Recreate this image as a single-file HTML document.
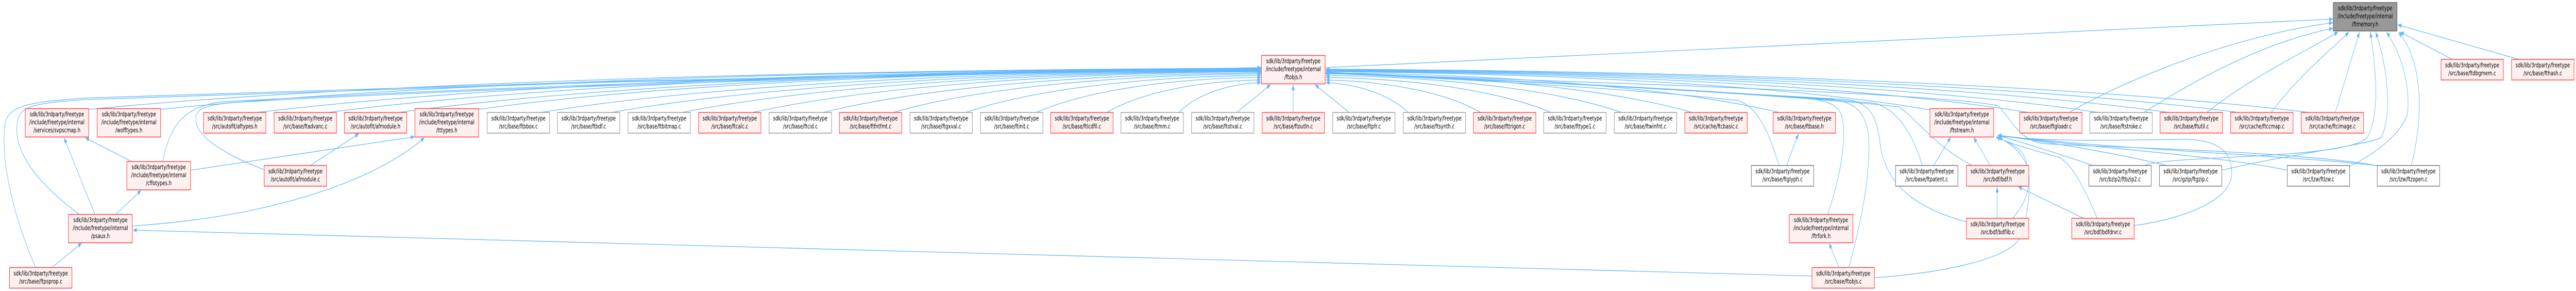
<!DOCTYPE html>
<html><head><meta charset="utf-8"><style>
html,body{margin:0;padding:0;background:#fff;width:100%;height:100%;overflow:hidden}
svg{display:block;position:fixed;left:0;top:0;width:100vw;height:100vh}
.r{fill:#fff0f0;stroke:#ff4040;stroke-width:1.5}
.g{fill:#fff;stroke:#999;stroke-width:1.5}
.g2{fill:#fff;stroke:#777;stroke-width:1.5}
.t{fill:#999;stroke:#666;stroke-width:1.5}
.e{fill:none;stroke:#63b8ff;stroke-width:1.3}
text{font-family:"DejaVu Sans","Liberation Sans",sans-serif;font-size:12.8px;text-anchor:middle;fill:#000}
</style></head><body>
<svg viewBox="0 0 7556 564" preserveAspectRatio="none" xmlns="http://www.w3.org/2000/svg">
<defs><marker id="a" markerUnits="userSpaceOnUse" markerWidth="12" markerHeight="10" refX="11" refY="5" orient="auto"><path d="M0,0.5 L11,5 L0,9.5z" fill="#63b8ff"/></marker></defs>
<rect x="0" y="0" width="7556" height="564" fill="#fff"/>
<g class="e" marker-end="url(#a)">
<path d="M3887,131 L6843,37"/>
<path d="M6069,218 C6250,150 6550,70 6843,44"/>
<path d="M6289,218 C6450,150 6650,80 6843,55"/>
<path d="M6473,218 C6600,150 6790,90 6858,62"/>
<path d="M6662,218 C6750,140 6850,90 6890,62"/>
<path d="M6850,218 L6921,62"/>
<path d="M6289,321 C6350,300 6900,310 6945,265 C6985,215 6965,120 6953,62"/>
<path d="M6517,330 C6700,300 6960,280 6985,266 C7020,220 7000,120 6968,62"/>
<path d="M6893,322 C6990,290 7050,250 7062,220 C7070,160 7040,100 7000,62"/>
<path d="M7073,321 C7100,250 7120,130 7035,62"/>
<path d="M7193,115 L7040,62"/>
<path d="M7388,115 L7033,48"/>
<path d="M260,212 C948,168 2152,136 3699,132"/>
<path d="M471,212 C1117,168 2247,136 3699,133"/>
<path d="M754,218 C1343,171 2374,137 3699,133"/>
<path d="M962,218 C1510,171 2468,137 3699,134"/>
<path d="M1169,218 C1675,172 2561,138 3699,134"/>
<path d="M1404,212 C1863,169 2667,138 3699,135"/>
<path d="M1586,218 C2009,172 2749,139 3699,136"/>
<path d="M1793,218 C2174,173 2842,140 3699,137"/>
<path d="M2000,218 C2340,173 2935,141 3699,138"/>
<path d="M2207,218 C2506,174 3028,142 3699,139"/>
<path d="M2415,218 C2672,175 3122,144 3699,141"/>
<path d="M2620,218 C2836,176 3214,146 3699,143"/>
<path d="M2832,218 C3006,178 3309,149 3699,146"/>
<path d="M3039,218 C3171,180 3403,152 3699,150"/>
<path d="M3246,218 C3337,183 3496,157 3699,155"/>
<path d="M3458,218 C3506,186 3591,163 3699,160"/>
<path d="M3628,218 L3727,164"/>
<path d="M3793,218 L3793,164"/>
<path d="M3957,218 L3857,164"/>
<path d="M4131,218 C4082,187 3997,164 3889,160"/>
<path d="M4343,218 C4252,183 4092,158 3889,155"/>
<path d="M4550,218 C4417,181 4185,153 3889,150"/>
<path d="M4757,218 C4583,178 4279,150 3889,146"/>
<path d="M4964,218 C4749,177 4372,147 3889,143"/>
<path d="M5219,218 C4953,176 4486,145 3889,141"/>
<path d="M5661,213 C5306,172 4685,143 3889,139"/>
<path d="M5950,218 C5537,174 4815,142 3889,138"/>
<path d="M6155,218 C5701,173 4908,141 3889,137"/>
<path d="M6363,218 C5868,173 5001,140 3889,136"/>
<path d="M6567,218 C6031,172 5093,139 3889,135"/>
<path d="M6774,218 C6197,172 5186,138 3889,134"/>
<path d="M477,313 C500,240 540,210 640,198 C1500,165 2800,140 3699,132"/>
<path d="M775,329 C680,305 580,270 575,235 C570,210 600,203 700,198 C1500,168 2800,142 3699,133"/>
<path d="M232,415 C120,360 40,300 50,240 C55,205 100,200 250,193 C1300,165 2800,140 3699,131"/>
<path d="M104,518 C40,420 0,310 15,240 C25,205 80,198 250,190 C1300,163 2800,140 3699,131"/>
<path d="M386,313 L250,267"/>
<path d="M558,330 L1216,265"/>
<path d="M278,415 L188,267"/>
<path d="M340,415 L414,369"/>
<path d="M388,438 C800,420 1100,350 1245,267"/>
<path d="M153,518 L240,471"/>
<path d="M912,320 L1053,259"/>
<path d="M5315,535 L390,446"/>
<path d="M5241,320 L5275,259"/>
<path d="M5218,320 C5190,260 5160,210 5100,195 C4800,172 4250,152 3889,142"/>
<path d="M5672,320 L5722,266"/>
<path d="M5638,320 C5610,260 5570,215 5500,200 C5100,178 4300,152 3889,140"/>
<path d="M5837,320 L5789,266"/>
<path d="M5783,320 C5680,285 5620,230 5570,207 C5200,180 4300,152 3889,140"/>
<path d="M5858,423 L5858,362"/>
<path d="M5904,423 C5960,380 5990,310 5862,266"/>
<path d="M5768,430 C5600,400 5530,350 5515,280 C5505,220 5480,200 5420,193 C5000,175 4300,152 3889,141"/>
<path d="M6111,423 L5920,362"/>
<path d="M6152,423 C6110,360 6080,320 6040,305 C5960,290 5900,280 5855,265"/>
<path d="M6260,437 C6400,425 6540,390 6546,340 C6550,290 6500,270 6400,270 C6200,272 6000,275 5860,263"/>
<path d="M6140,321 C6050,300 5950,280 5860,262"/>
<path d="M6356,321 C6200,295 6000,275 5860,262"/>
<path d="M6709,330 C6500,300 6100,285 5860,262"/>
<path d="M6973,321 C6700,300 6200,290 5860,262"/>
<path d="M6973,321 C6700,290 6100,285 5990,278 C5920,270 5900,230 5860,205 C5700,180 4500,155 3889,142"/>
<path d="M5394,518 L5365,471"/>
<path d="M5423,518 C5460,430 5490,330 5480,260 C5470,215 5440,200 5380,193 C5000,175 4300,152 3889,141"/>
<path d="M5497,538 C5700,530 5900,500 5925,460 C5960,400 5960,320 5930,295 C5900,275 5870,270 5855,266"/>
<path d="M5361,415 C5400,340 5420,260 5400,220 C5385,200 5350,195 5300,190 C4900,170 4300,152 3889,141"/>
</g>

<rect class="t" x="6844" y="5" width="187" height="55"/>
<text x="6937.5" y="20">sdk/lib/3rdparty/freetype<tspan x="6937.5" dy="15.5">/include/freetype/internal</tspan><tspan x="6937.5" dy="15.5">/ftmemory.h</tspan></text>

<rect class="r" x="3700" y="107.5" width="187" height="55"/>
<text x="3793.5" y="122.5">sdk/lib/3rdparty/freetype<tspan x="3793.5" dy="15.5">/include/freetype/internal</tspan><tspan x="3793.5" dy="15.5">/ftobjs.h</tspan></text>

<rect class="r" x="7160" y="115" width="183" height="40"/>
<text x="7251.5" y="130.3">sdk/lib/3rdparty/freetype<tspan x="7251.5" dy="15.5">/src/base/ftdbgmem.c</tspan></text>
<rect class="r" x="7367" y="115" width="183" height="40"/>
<text x="7458.5" y="130.3">sdk/lib/3rdparty/freetype<tspan x="7458.5" dy="15.5">/src/base/fthash.c</tspan></text>

<rect class="r" x="74" y="210.5" width="186" height="55"/>
<text x="167" y="225.5">sdk/lib/3rdparty/freetype<tspan x="167" dy="15.5">/include/freetype/internal</tspan><tspan x="167" dy="15.5">/services/svpscmap.h</tspan></text>
<rect class="r" x="285" y="210.5" width="186" height="55"/>
<text x="378" y="225.5">sdk/lib/3rdparty/freetype<tspan x="378" dy="15.5">/include/freetype/internal</tspan><tspan x="378" dy="15.5">/wofftypes.h</tspan></text>
<rect class="r" x="597" y="218" width="183" height="40"/>
<text x="688.5" y="233.3">sdk/lib/3rdparty/freetype<tspan x="688.5" dy="15.5">/src/autofit/aftypes.h</tspan></text>
<rect class="r" x="804" y="218" width="183" height="40"/>
<text x="895.5" y="233.3">sdk/lib/3rdparty/freetype<tspan x="895.5" dy="15.5">/src/base/ftadvanc.c</tspan></text>
<rect class="r" x="1010" y="218" width="183" height="40"/>
<text x="1101.5" y="233.3">sdk/lib/3rdparty/freetype<tspan x="1101.5" dy="15.5">/src/autofit/afmodule.h</tspan></text>
<rect class="r" x="1217" y="210.5" width="187" height="55"/>
<text x="1310.5" y="225.5">sdk/lib/3rdparty/freetype<tspan x="1310.5" dy="15.5">/include/freetype/internal</tspan><tspan x="1310.5" dy="15.5">/tttypes.h</tspan></text>
<rect class="g" x="1429" y="218" width="183" height="40"/>
<text x="1520.5" y="233.3">sdk/lib/3rdparty/freetype<tspan x="1520.5" dy="15.5">/src/base/ftbbox.c</tspan></text>
<rect class="g" x="1635" y="218" width="183" height="40"/>
<text x="1726.5" y="233.3">sdk/lib/3rdparty/freetype<tspan x="1726.5" dy="15.5">/src/base/ftbdf.c</tspan></text>
<rect class="g" x="1842" y="218" width="183" height="40"/>
<text x="1933.5" y="233.3">sdk/lib/3rdparty/freetype<tspan x="1933.5" dy="15.5">/src/base/ftbitmap.c</tspan></text>
<rect class="r" x="2049" y="218" width="183" height="40"/>
<text x="2140.5" y="233.3">sdk/lib/3rdparty/freetype<tspan x="2140.5" dy="15.5">/src/base/ftcalc.c</tspan></text>
<rect class="g" x="2256" y="218" width="183" height="40"/>
<text x="2347.5" y="233.3">sdk/lib/3rdparty/freetype<tspan x="2347.5" dy="15.5">/src/base/ftcid.c</tspan></text>
<rect class="r" x="2462" y="218" width="183" height="40"/>
<text x="2553.5" y="233.3">sdk/lib/3rdparty/freetype<tspan x="2553.5" dy="15.5">/src/base/ftfntfmt.c</tspan></text>
<rect class="g" x="2669" y="218" width="183" height="40"/>
<text x="2760.5" y="233.3">sdk/lib/3rdparty/freetype<tspan x="2760.5" dy="15.5">/src/base/ftgxval.c</tspan></text>
<rect class="g" x="2876" y="218" width="183" height="40"/>
<text x="2967.5" y="233.3">sdk/lib/3rdparty/freetype<tspan x="2967.5" dy="15.5">/src/base/ftinit.c</tspan></text>
<rect class="r" x="3082" y="218" width="183" height="40"/>
<text x="3173.5" y="233.3">sdk/lib/3rdparty/freetype<tspan x="3173.5" dy="15.5">/src/base/ftlcdfil.c</tspan></text>
<rect class="g" x="3288" y="218" width="183" height="40"/>
<text x="3379.5" y="233.3">sdk/lib/3rdparty/freetype<tspan x="3379.5" dy="15.5">/src/base/ftmm.c</tspan></text>
<rect class="g" x="3495" y="218" width="183" height="40"/>
<text x="3586.5" y="233.3">sdk/lib/3rdparty/freetype<tspan x="3586.5" dy="15.5">/src/base/ftotval.c</tspan></text>
<rect class="r" x="3702" y="218" width="183" height="40"/>
<text x="3793.5" y="233.3">sdk/lib/3rdparty/freetype<tspan x="3793.5" dy="15.5">/src/base/ftoutln.c</tspan></text>
<rect class="g" x="3909" y="218" width="183" height="40"/>
<text x="4000.5" y="233.3">sdk/lib/3rdparty/freetype<tspan x="4000.5" dy="15.5">/src/base/ftpfr.c</tspan></text>
<rect class="g" x="4116" y="218" width="183" height="40"/>
<text x="4207.5" y="233.3">sdk/lib/3rdparty/freetype<tspan x="4207.5" dy="15.5">/src/base/ftsynth.c</tspan></text>
<rect class="r" x="4322" y="218" width="183" height="40"/>
<text x="4413.5" y="233.3">sdk/lib/3rdparty/freetype<tspan x="4413.5" dy="15.5">/src/base/fttrigon.c</tspan></text>
<rect class="g" x="4528" y="218" width="183" height="40"/>
<text x="4619.5" y="233.3">sdk/lib/3rdparty/freetype<tspan x="4619.5" dy="15.5">/src/base/fttype1.c</tspan></text>
<rect class="g" x="4735" y="218" width="183" height="40"/>
<text x="4826.5" y="233.3">sdk/lib/3rdparty/freetype<tspan x="4826.5" dy="15.5">/src/base/ftwinfnt.c</tspan></text>
<rect class="r" x="4942" y="218" width="183" height="40"/>
<text x="5033.5" y="233.3">sdk/lib/3rdparty/freetype<tspan x="5033.5" dy="15.5">/src/cache/ftcbasic.c</tspan></text>
<rect class="r" x="5201" y="218" width="183" height="40"/>
<text x="5292.5" y="233.3">sdk/lib/3rdparty/freetype<tspan x="5292.5" dy="15.5">/src/base/ftbase.h</tspan></text>
<rect class="r" x="5661" y="210.5" width="187" height="55"/>
<text x="5754.5" y="225.5">sdk/lib/3rdparty/freetype<tspan x="5754.5" dy="15.5">/include/freetype/internal</tspan><tspan x="5754.5" dy="15.5">/ftstream.h</tspan></text>
<rect class="r" x="5924" y="218" width="183" height="40"/>
<text x="6015.5" y="233.3">sdk/lib/3rdparty/freetype<tspan x="6015.5" dy="15.5">/src/base/ftgloadr.c</tspan></text>
<rect class="g" x="6130" y="218" width="183" height="40"/>
<text x="6221.5" y="233.3">sdk/lib/3rdparty/freetype<tspan x="6221.5" dy="15.5">/src/base/ftstroke.c</tspan></text>
<rect class="r" x="6336" y="218" width="183" height="40"/>
<text x="6427.5" y="233.3">sdk/lib/3rdparty/freetype<tspan x="6427.5" dy="15.5">/src/base/ftutil.c</tspan></text>
<rect class="r" x="6543" y="218" width="183" height="40"/>
<text x="6634.5" y="233.3">sdk/lib/3rdparty/freetype<tspan x="6634.5" dy="15.5">/src/cache/ftccmap.c</tspan></text>
<rect class="r" x="6750" y="218" width="183" height="40"/>
<text x="6841.5" y="233.3">sdk/lib/3rdparty/freetype<tspan x="6841.5" dy="15.5">/src/cache/ftcimage.c</tspan></text>

<rect class="r" x="372" y="313" width="187" height="55"/>
<text x="465.5" y="328">sdk/lib/3rdparty/freetype<tspan x="465.5" dy="15.5">/include/freetype/internal</tspan><tspan x="465.5" dy="15.5">/cffotypes.h</tspan></text>
<rect class="r" x="775" y="320.7" width="183" height="40"/>
<text x="866.5" y="336">sdk/lib/3rdparty/freetype<tspan x="866.5" dy="15.5">/src/autofit/afmodule.c</tspan></text>
<rect class="g2" x="5137" y="320.7" width="183" height="40"/>
<text x="5228.5" y="336">sdk/lib/3rdparty/freetype<tspan x="5228.5" dy="15.5">/src/base/ftglyph.c</tspan></text>
<rect class="g2" x="5560" y="320.7" width="183" height="40"/>
<text x="5651.5" y="336">sdk/lib/3rdparty/freetype<tspan x="5651.5" dy="15.5">/src/base/ftpatent.c</tspan></text>
<rect class="r" x="5768" y="320.7" width="183" height="40"/>
<text x="5859.5" y="336">sdk/lib/3rdparty/freetype<tspan x="5859.5" dy="15.5">/src/bdf/bdf.h</tspan></text>
<rect class="g2" x="6127" y="320.7" width="183" height="40"/>
<text x="6218.5" y="336">sdk/lib/3rdparty/freetype<tspan x="6218.5" dy="15.5">/src/bzip2/ftbzip2.c</tspan></text>
<rect class="g2" x="6334" y="320.7" width="183" height="40"/>
<text x="6425.5" y="336">sdk/lib/3rdparty/freetype<tspan x="6425.5" dy="15.5">/src/gzip/ftgzip.c</tspan></text>
<rect class="g2" x="6709" y="320.7" width="183" height="40"/>
<text x="6800.5" y="336">sdk/lib/3rdparty/freetype<tspan x="6800.5" dy="15.5">/src/lzw/ftlzw.c</tspan></text>
<rect class="g2" x="6973" y="320.7" width="183" height="40"/>
<text x="7064.5" y="336">sdk/lib/3rdparty/freetype<tspan x="7064.5" dy="15.5">/src/lzw/ftzopen.c</tspan></text>

<rect class="r" x="201" y="415.5" width="187" height="55"/>
<text x="294.5" y="430.5">sdk/lib/3rdparty/freetype<tspan x="294.5" dy="15.5">/include/freetype/internal</tspan><tspan x="294.5" dy="15.5">/psaux.h</tspan></text>
<rect class="r" x="5248" y="415.5" width="187" height="55"/>
<text x="5341.5" y="430.5">sdk/lib/3rdparty/freetype<tspan x="5341.5" dy="15.5">/include/freetype/internal</tspan><tspan x="5341.5" dy="15.5">/ftrfork.h</tspan></text>
<rect class="r" x="5768" y="423" width="183" height="40"/>
<text x="5859.5" y="438.3">sdk/lib/3rdparty/freetype<tspan x="5859.5" dy="15.5">/src/bdf/bdflib.c</tspan></text>
<rect class="r" x="6077" y="423" width="183" height="40"/>
<text x="6168.5" y="438.3">sdk/lib/3rdparty/freetype<tspan x="6168.5" dy="15.5">/src/bdf/bdfdrvr.c</tspan></text>

<rect class="r" x="28" y="518.5" width="183" height="40"/>
<text x="119.5" y="533.8">sdk/lib/3rdparty/freetype<tspan x="119.5" dy="15.5">/src/base/ftpsprop.c</tspan></text>
<rect class="r" x="5315" y="518.5" width="183" height="40"/>
<text x="5406.5" y="533.8">sdk/lib/3rdparty/freetype<tspan x="5406.5" dy="15.5">/src/base/ftobjs.c</tspan></text>
</svg>
</body></html>
